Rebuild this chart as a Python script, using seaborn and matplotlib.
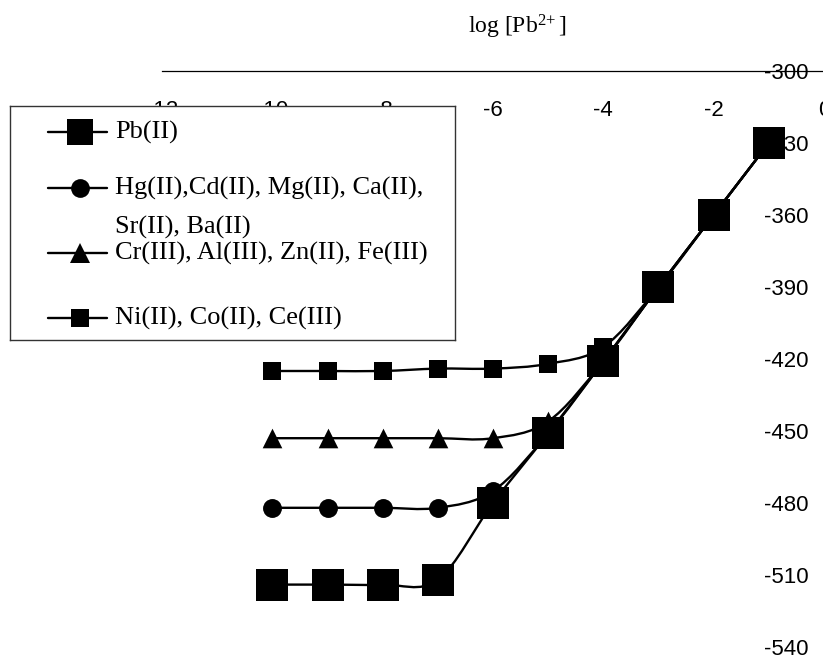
import numpy as np
import seaborn as sns
import matplotlib
matplotlib.use("Agg")
import matplotlib.pyplot as plt
from matplotlib.path import Path
from matplotlib.patches import PathPatch
from matplotlib.lines import Line2D

# ---- data -------------------------------------------------------------
log_pb = [-10, -9, -8, -7, -6, -5, -4, -3, -2, -1]
pb_ii = [-514, -514, -514, -512, -480, -451, -421, -390, -360, -330]
hg_group = [-482, -482, -482, -482, -475, -451, -421, -390, -360, -330]
cr_group = [-453, -453, -453, -453, -453, -446, -421, -390, -360, -330]
ni_group = [-425, -425, -425, -424, -424, -422, -415, -390, -360, -330]

series_labels = [
    "Pb(II)",
    "Hg(II),Cd(II), Mg(II), Ca(II),\nSr(II), Ba(II)",
    "Cr(III), Al(III), Zn(II), Fe(III)",
    "Ni(II), Co(II), Ce(III)",
]
x_ticks = [-12, -10, -8, -6, -4, -2, 0]
y_ticks = [-540, -510, -480, -450, -420, -390, -360, -330, -300]
x_title = r"log [Pb$^{2\!+}$]"

# ---- style ------------------------------------------------------------
sns.set_theme(style="white")
plt.rcParams["font.family"] = ["Liberation Sans", "DejaVu Sans"]
plt.rcParams["mathtext.fontset"] = "custom"
plt.rcParams["mathtext.rm"] = "Liberation Serif"
plt.rcParams["mathtext.it"] = "Liberation Serif:italic"
SERIF = ["Liberation Serif", "DejaVu Serif"]

W, H = 823, 657
fig = plt.figure(figsize=(W / 100, H / 100), dpi=100)
fig.patch.set_facecolor("white")


def fig_box(x0, y0, x1, y1):
    """pixel box (top-left origin) -> figure fraction rect"""
    return [x0 / W, 1 - y1 / H, (x1 - x0) / W, (y1 - y0) / H]


ax = fig.add_axes(fig_box(162, 71, 824, 647))
ax.set_facecolor("white")


def smooth_path(xs, ys):
    """Cubic Bezier path through the points (Catmull-Rom style smoothing)."""
    pts = np.column_stack([xs, ys]).astype(float)
    n = len(pts)
    verts, codes = [pts[0]], [Path.MOVETO]
    for i in range(n - 1):
        p0 = pts[i - 1] if i > 0 else pts[i]
        p1, p2 = pts[i], pts[i + 1]
        p3 = pts[i + 2] if i + 2 < n else pts[i + 1]
        verts += [p1 + (p2 - p0) / 6, p2 - (p3 - p1) / 6, p2]
        codes += [Path.CURVE4] * 3
    return Path(verts, codes)


styles = [
    (pb_ii, "s", 500, 18.5, 5),
    (hg_group, "o", 185, 13.5, 3),
    (cr_group, "^", 200, 14, 3),
    (ni_group, "s", 180, 13.5, 3),
]

for vals, mk, size, _, z in styles:
    ax.add_patch(PathPatch(smooth_path(log_pb, vals), facecolor="none",
                           edgecolor="black", lw=1.7, zorder=z))
    sns.scatterplot(x=log_pb, y=vals, marker=mk, s=size, color="black",
                    linewidth=0, ax=ax, zorder=z + 0.5, legend=False)

ax.set_xlim(-12, 0)
ax.set_ylim(-540, -300)
ax.set_xticks(x_ticks)
ax.set_yticks(y_ticks)
ax.set_xticklabels([str(v) for v in x_ticks])
ax.set_yticklabels([str(v) for v in y_ticks])

# axes cross at x = 0 and y = -300
ax.spines["left"].set_position(("data", 0))
ax.spines["bottom"].set_position(("data", -300))
ax.spines["right"].set_visible(False)
ax.spines["top"].set_visible(False)
for sp in ("left", "bottom"):
    ax.spines[sp].set_color("black")
    ax.spines[sp].set_linewidth(0.9)

ax.tick_params(axis="x", direction="out", length=5, width=0.9,
               labelsize=16, pad=16, colors="black")
ax.tick_params(axis="y", direction="out", length=4, width=0.9,
               labelsize=16, pad=7, colors="black")
ax.set_xlabel("")
ax.set_ylabel("")

fig.text(517 / W, 1 - 27 / H, x_title, ha="center", va="center",
         fontsize=17, family=SERIF, color="black")

# ---- legend box -------------------------------------------------------
lax = fig.add_axes(fig_box(10, 106, 455, 340))
lax.set_xlim(0, 445)
lax.set_ylim(234, 0)
lax.set_xticks([])
lax.set_yticks([])
lax.set_facecolor("white")
for sp in lax.spines.values():
    sp.set_visible(True)
    sp.set_color("#333333")
    sp.set_linewidth(1.0)

row_y = [26, 82, 147, 212]
for (vals, mk, _, msize, _), label, y in zip(styles, series_labels, row_y):
    lax.add_line(Line2D([38, 97], [y, y], color="black", lw=1.7))
    lax.add_line(Line2D([70], [y], color="black", marker=mk,
                        markersize=msize, markeredgewidth=0, linestyle=""))
    for k, part in enumerate(label.split("\n")):
        lax.text(105, y + k * 39, part, ha="left", va="center",
                 fontsize=19, family=SERIF, color="black")

fig.savefig("out.png", dpi=100, facecolor="white")
